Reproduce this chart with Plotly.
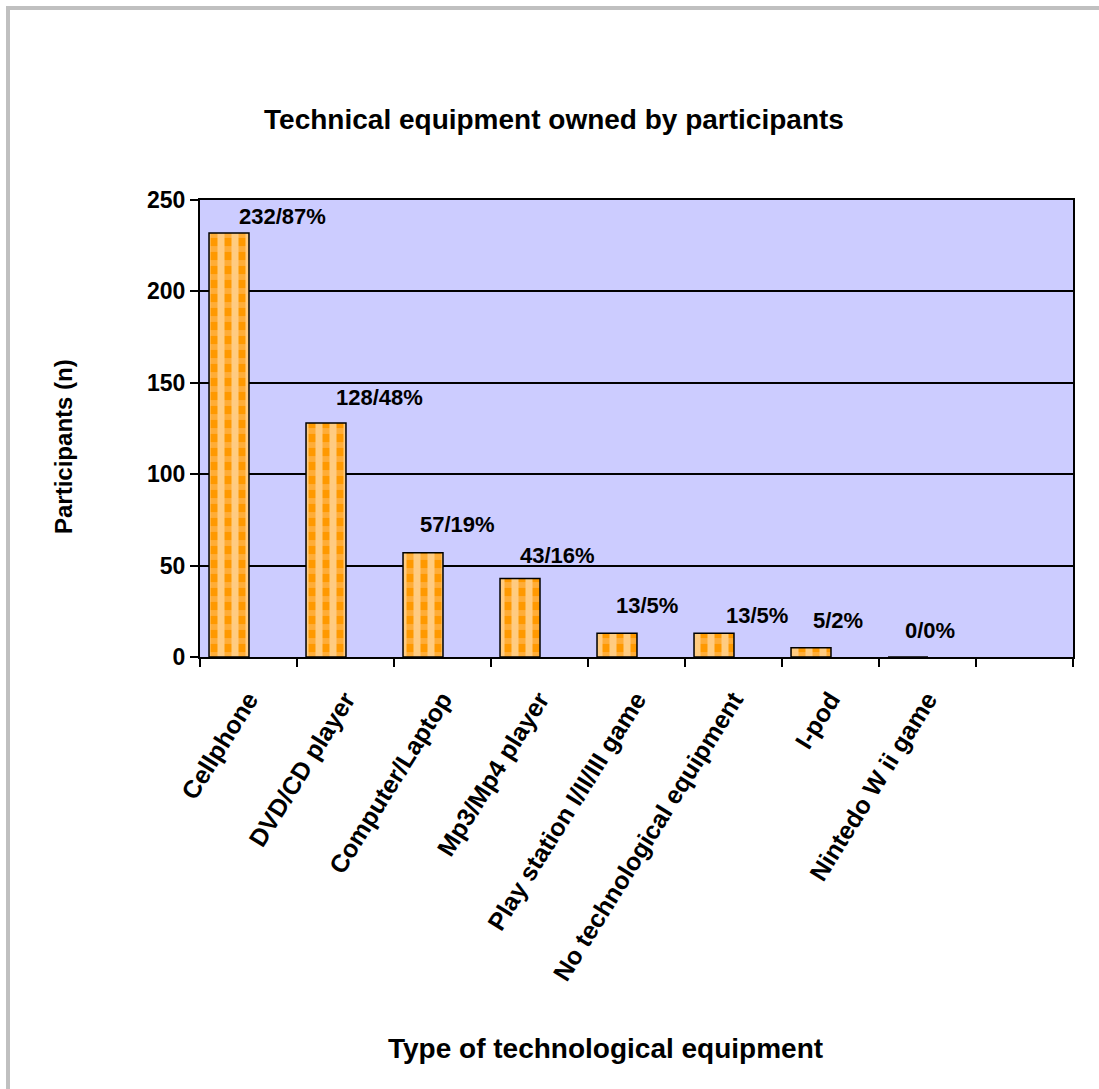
import plotly.graph_objects as go

# ---- data -------------------------------------------------------------
categories = [
    "Cellphone",
    "DVD/CD player",
    "Computer/Laptop",
    "Mp3/Mp4 player",
    "Play station I/II/III game",
    "No technological equipment",
    "I-pod",
    "Nintedo W ii game",
]
counts = [232, 128, 57, 43, 13, 13, 5, 0]
percents = [87, 48, 19, 16, 5, 5, 2, 0]
y_ticks = [0, 50, 100, 150, 200, 250]

# pixel nudges for the hand-placed value labels (dx right, dy up)
label_nudges = [(34, 16), (34, 26), (15, 28), (18, 23), (10, 28), (23, 18), (7, 27), (2, 27)]

# ---- layout geometry ---------------------------------------------------
W, H = 1099, 1089
M_L, M_R, M_T, M_B = 200, 26, 200, 432
PW, PH = W - M_L - M_R, H - M_T - M_B

def px_x(px):
    return (px - M_L) / PW

def px_y(py):
    return (H - M_B - py) / PH

FONT = "Liberation Sans, Arial, sans-serif"
ORANGE = "#FF9900"

# an empty trailing slot keeps the plot width of the original layout
slots = categories + [" "]

bar_offset = -0.407
bar_width = 0.412

fig = go.Figure()

# orange bars broken by white vertical stripes
fig.add_trace(go.Bar(
    x=categories, y=counts,
    offset=bar_offset, width=bar_width,
    marker=dict(
        color=ORANGE,
        line=dict(width=0),
        pattern=dict(shape="|", fgcolor="white", bgcolor=ORANGE, size=14, solidity=0.5),
    ),
    hoverinfo="skip",
    showlegend=False,
))
# pale orange horizontal bands across the stripes, with the black outline
fig.add_trace(go.Bar(
    x=categories, y=counts,
    offset=bar_offset, width=bar_width,
    marker=dict(
        color="rgba(0,0,0,0)",
        line=dict(color="black", width=1.5),
        pattern=dict(shape="-", fgcolor="rgba(255,200,130,0.85)", size=14, solidity=0.42),
    ),
    customdata=percents,
    hovertemplate="%{x}: %{y} (%{customdata}%)<extra></extra>",
    showlegend=False,
))

annotations = []
for cat, n, pct, (dx, dy) in zip(categories, counts, percents, label_nudges):
    annotations.append(dict(
        x=cat, y=n, xref="x", yref="y",
        text=f"{n}/{pct}%",
        showarrow=False,
        xanchor="center", yanchor="middle",
        xshift=dx, yshift=dy,
        font=dict(family=FONT, size=22, color="black", weight="bold"),
    ))

annotations.append(dict(
    x=px_x(63), y=px_y(447), xref="paper", yref="paper",
    text="Participants (n)", textangle=-90,
    showarrow=False, xanchor="center", yanchor="middle",
    font=dict(family=FONT, size=24, color="black", weight="bold"),
))
annotations.append(dict(
    x=px_x(605), y=px_y(1048), xref="paper", yref="paper",
    text="Type of technological equipment",
    showarrow=False, xanchor="center", yanchor="middle",
    font=dict(family=FONT, size=28, color="black", weight="bold"),
))

# grey outer chart frame (left and top edges)
frame = dict(color="#C0C0C0", width=4)
shapes = [
    dict(type="line", xref="paper", yref="paper",
         x0=px_x(8), x1=px_x(8), y0=px_y(6), y1=px_y(1100), line=frame),
    dict(type="line", xref="paper", yref="paper",
         x0=px_x(6), x1=px_x(1110), y0=px_y(8), y1=px_y(8), line=frame),
]

fig.update_layout(
    width=W, height=H,
    margin=dict(l=M_L, r=M_R, t=M_T, b=M_B),
    paper_bgcolor="white",
    plot_bgcolor="#CCCCFF",
    barmode="overlay",
    title=dict(
        text="Technical equipment owned by participants",
        x=554 / W, xanchor="center",
        y=1 - 119 / H, yanchor="middle",
        font=dict(family=FONT, size=28, color="black", weight="bold"),
    ),
    annotations=annotations,
    shapes=shapes,
    font=dict(family=FONT, color="black"),
)

fig.update_xaxes(
    type="category",
    categoryorder="array", categoryarray=slots,
    range=[-0.5, len(slots) - 0.5],
    tickson="boundaries",
    ticks="outside", ticklen=8, tickwidth=1.5, tickcolor="black",
    tickangle=-58,
    tickfont=dict(family=FONT, size=25, color="black", weight="bold"),
    ticklabelstandoff=16,
    showline=True, linecolor="black", linewidth=2, mirror=True,
    showgrid=False,
)

fig.update_yaxes(
    range=[0, 250],
    tickvals=y_ticks,
    ticks="outside", ticklen=8, tickwidth=1.5, tickcolor="black",
    tickfont=dict(family=FONT, size=23, color="black", weight="bold"),
    showline=True, linecolor="black", linewidth=2, mirror=True,
    showgrid=True, gridcolor="black", gridwidth=1.5,
    zeroline=False,
)

fig.write_html("out.html")
